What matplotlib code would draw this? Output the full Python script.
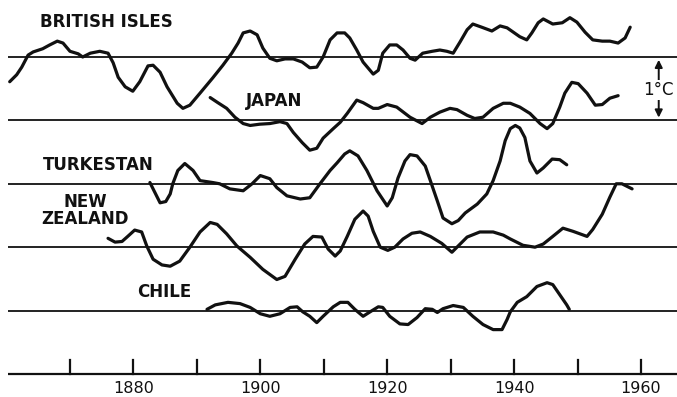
import numpy as np
import matplotlib
matplotlib.use("Agg")
import matplotlib.pyplot as plt

# --- data: years and temperature departures (deg C) ---
bi_years = [1860.5, 1861.6, 1862.4, 1863.4, 1864.2, 1865.7, 1866.8, 1868.0, 1868.9, 1870.0,
            1871.3, 1872.0, 1873.2, 1874.7, 1876.0, 1876.8, 1877.6, 1878.7, 1879.9, 1881.0,
            1882.3, 1883.1, 1884.2, 1885.3, 1886.9, 1887.8, 1888.9, 1890.5, 1892.5, 1894.1,
            1895.5, 1896.5, 1897.3, 1898.4, 1899.5, 1900.4, 1901.5, 1902.6, 1903.9, 1905.2,
            1906.6, 1907.8, 1908.9, 1909.9, 1911.0, 1912.1, 1913.3, 1914.1, 1915.2, 1916.2,
            1917.8, 1918.6, 1919.3, 1920.4, 1921.5, 1922.5, 1923.6, 1924.4, 1925.6, 1927.1,
            1928.3, 1929.4, 1930.4, 1931.5, 1932.6, 1933.5, 1934.9, 1936.5, 1937.8, 1938.9,
            1940.9, 1942.0, 1942.8, 1943.8, 1944.6, 1946.1, 1947.6, 1948.8, 1949.9, 1951.2,
            1952.4, 1953.9, 1955.1, 1956.4, 1957.5, 1958.3]
bi_temp = [-0.39, -0.28, -0.16, 0.03, 0.08, 0.13, 0.19, 0.25, 0.22, 0.09,
           0.05, 0.00, 0.06, 0.09, 0.06, -0.09, -0.32, -0.47, -0.54, -0.39,
           -0.14, -0.13, -0.24, -0.47, -0.73, -0.81, -0.76, -0.57, -0.33, -0.13,
           0.06, 0.22, 0.38, 0.41, 0.35, 0.14, -0.02, -0.06, -0.03, -0.03,
           -0.08, -0.17, -0.16, 0.00, 0.27, 0.38, 0.38, 0.30, 0.11, -0.08,
           -0.27, -0.21, 0.06, 0.19, 0.19, 0.11, -0.02, -0.05, 0.06, 0.09,
           0.11, 0.09, 0.06, 0.24, 0.43, 0.52, 0.47, 0.41, 0.49, 0.46,
           0.32, 0.27, 0.38, 0.54, 0.60, 0.52, 0.54, 0.62, 0.55, 0.39,
           0.27, 0.25, 0.25, 0.22, 0.30, 0.47]

jp_years = [1892.1, 1893.3, 1894.7, 1896.0, 1897.3, 1898.4, 1899.9, 1901.5, 1903.1, 1904.2,
            1905.2, 1906.6, 1907.8, 1908.9, 1909.9, 1911.5, 1912.6, 1913.7, 1915.2, 1916.2,
            1917.8, 1918.6, 1920.0, 1921.5, 1923.6, 1925.5, 1926.8, 1928.3, 1929.9, 1931.0,
            1932.6, 1933.8, 1935.1, 1936.7, 1938.3, 1939.4, 1940.9, 1942.5, 1944.1, 1945.2,
            1946.1, 1947.2, 1948.0, 1949.1, 1950.1, 1951.5, 1952.8, 1953.9, 1955.1, 1956.4]
jp_temp = [0.36, 0.28, 0.19, 0.05, -0.05, -0.08, -0.06, -0.05, -0.02, -0.05,
           -0.19, -0.35, -0.47, -0.44, -0.28, -0.13, -0.03, 0.11, 0.32, 0.28,
           0.19, 0.19, 0.25, 0.21, 0.05, -0.05, 0.05, 0.13, 0.19, 0.17,
           0.08, 0.03, 0.05, 0.19, 0.27, 0.27, 0.21, 0.11, -0.05, -0.13,
           -0.05, 0.21, 0.43, 0.60, 0.58, 0.43, 0.24, 0.25, 0.35, 0.39]

tu_years = [1882.6, 1883.4, 1884.2, 1885.1, 1885.8, 1886.2, 1887.0, 1888.1, 1889.4, 1890.5,
            1892.5, 1893.6, 1895.2, 1897.3, 1898.7, 1900.0, 1901.5, 1902.6, 1904.2, 1906.3,
            1907.8, 1909.4, 1911.0, 1912.1, 1913.3, 1914.1, 1915.4, 1916.8, 1918.4, 1920.0,
            1920.8, 1921.7, 1922.8, 1923.6, 1924.7, 1926.0, 1926.8, 1927.9, 1928.8, 1930.2,
            1931.2, 1932.3, 1934.2, 1935.7, 1936.7, 1937.8, 1938.6, 1939.4, 1940.2, 1940.9,
            1941.7, 1942.5, 1943.6, 1944.6, 1946.0, 1947.2, 1948.3]
tu_temp = [0.02, -0.14, -0.30, -0.28, -0.16, 0.00, 0.21, 0.32, 0.21, 0.05,
           0.02, 0.00, -0.08, -0.11, 0.00, 0.13, 0.08, -0.06, -0.19, -0.24,
           -0.22, 0.00, 0.21, 0.33, 0.47, 0.52, 0.44, 0.21, -0.11, -0.35,
           -0.22, 0.09, 0.36, 0.46, 0.44, 0.28, 0.05, -0.27, -0.54, -0.63,
           -0.58, -0.46, -0.32, -0.16, 0.05, 0.36, 0.68, 0.87, 0.92, 0.88,
           0.73, 0.36, 0.17, 0.25, 0.39, 0.38, 0.30]

nz_years = [1876.0, 1877.1, 1878.2, 1879.1, 1880.2, 1881.3, 1882.1, 1883.1, 1884.5, 1885.8,
            1887.3, 1888.9, 1890.5, 1892.1, 1893.2, 1894.7, 1896.3, 1898.4, 1900.4, 1902.6,
            1903.9, 1905.5, 1907.0, 1908.3, 1909.7, 1910.7, 1911.8, 1912.6, 1913.7, 1914.9,
            1916.2, 1917.0, 1917.8, 1918.9, 1920.1, 1921.2, 1922.5, 1923.9, 1925.2, 1926.8,
            1928.6, 1930.2, 1931.2, 1932.6, 1934.6, 1936.7, 1938.3, 1939.4, 1941.4, 1943.3,
            1944.6, 1946.1, 1947.7, 1949.3, 1951.5, 1952.4, 1953.9, 1955.1, 1956.1, 1957.0,
            1958.6]
nz_temp = [0.14, 0.08, 0.09, 0.17, 0.27, 0.24, 0.02, -0.19, -0.28, -0.30,
           -0.22, 0.00, 0.24, 0.39, 0.36, 0.21, 0.02, -0.16, -0.35, -0.51,
           -0.46, -0.19, 0.05, 0.17, 0.16, -0.03, -0.14, -0.06, 0.17, 0.44,
           0.57, 0.49, 0.25, 0.00, -0.05, 0.00, 0.13, 0.22, 0.24, 0.17,
           0.06, -0.08, 0.02, 0.16, 0.24, 0.24, 0.19, 0.13, 0.03, 0.00,
           0.05, 0.17, 0.30, 0.25, 0.17, 0.28, 0.52, 0.79, 1.00, 1.00,
           0.92]

ch_years = [1891.6, 1892.9, 1894.9, 1896.8, 1898.4, 1900.0, 1901.5, 1903.1, 1904.7, 1905.8,
            1906.7, 1907.8, 1908.9, 1909.9, 1911.5, 1912.6, 1913.8, 1914.9, 1916.2, 1917.3,
            1918.6, 1919.3, 1920.4, 1922.0, 1923.3, 1924.7, 1926.0, 1927.1, 1927.9, 1928.8,
            1930.4, 1932.0, 1933.5, 1935.1, 1936.7, 1938.1, 1938.9, 1939.4, 1940.5, 1942.0,
            1943.6, 1945.2, 1946.1, 1947.2, 1948.3, 1948.7]
ch_temp = [0.02, 0.09, 0.13, 0.11, 0.05, -0.05, -0.09, -0.05, 0.05, 0.06,
           -0.02, -0.09, -0.19, -0.09, 0.06, 0.13, 0.13, 0.02, -0.09, -0.02,
           0.06, 0.05, -0.09, -0.21, -0.22, -0.11, 0.03, 0.02, -0.03, 0.03,
           0.08, 0.05, -0.09, -0.22, -0.30, -0.30, -0.14, -0.02, 0.13, 0.22,
           0.38, 0.44, 0.41, 0.25, 0.09, 0.02]

series = [
    (bi_years, bi_temp, 4),
    (jp_years, jp_temp, 3),
    (tu_years, tu_temp, 2),
    (nz_years, nz_temp, 1),
    (ch_years, ch_temp, 0),
]
tick_years = list(range(1870, 1961, 10))
label_years = [1880, 1900, 1920, 1940, 1960]

FONT = 'DejaVu Sans'
INK = '#111111'

fig = plt.figure(figsize=(6.77, 3.97), dpi=100, facecolor='white')
ax = fig.add_axes([0, 0, 1, 1])
ax.set_xlim(1858.97, 1965.68)
ax.set_ylim(-1.363, 4.899)
ax.axis('off')

x_left = 1860.2
x_right = 1965.68

# zero lines, one per station, 1 deg C apart
for yrs, temps, base in series:
    ax.plot([x_left, x_right], [base, base], color=INK, lw=1.3, solid_capstyle='butt')
    ax.plot(yrs, np.array(temps) + base, color=INK, lw=2.3,
            solid_joinstyle='round', solid_capstyle='round')

# time axis
ax.plot([x_left, x_right], [-1, -1], color=INK, lw=1.6, solid_capstyle='butt')
for ty in tick_years:
    ax.plot([ty, ty], [-1, -0.78], color=INK, lw=1.6)
for ly in label_years:
    ax.text(ly, -1.30, str(ly), ha='center', va='baseline', fontsize=11.5,
            family=FONT, color=INK)

# station names
lab = dict(fontsize=12, fontweight='bold', family=FONT, color=INK, va='center')
ax.text(1865.3, 4.55, 'BRITISH ISLES', ha='left', **lab)
ax.text(1897.7, 3.30, 'JAPAN', ha='left', **lab)
ax.text(1865.7, 2.30, 'TURKESTAN', ha='left', **lab)
ax.text(1872.4, 1.58, 'NEW\nZEALAND', ha='center', linespacing=0.95, **lab)
ax.text(1880.6, 0.30, 'CHILE', ha='left', **lab)

# 1 deg C scale arrow
xa = 1962.8
ax.annotate('', xy=(xa, 4.0), xytext=(xa, 3.5),
            arrowprops=dict(arrowstyle='-|>', color=INK, lw=1.4, mutation_scale=11))
ax.annotate('', xy=(xa, 3.0), xytext=(xa, 3.5),
            arrowprops=dict(arrowstyle='-|>', color=INK, lw=1.4, mutation_scale=11))
ax.text(xa, 3.48, '1°C', ha='center', va='center', fontsize=12, family=FONT,
        color=INK, bbox=dict(facecolor='white', edgecolor='none', pad=1.0))

fig.savefig('out.png', dpi=100, facecolor='white')
